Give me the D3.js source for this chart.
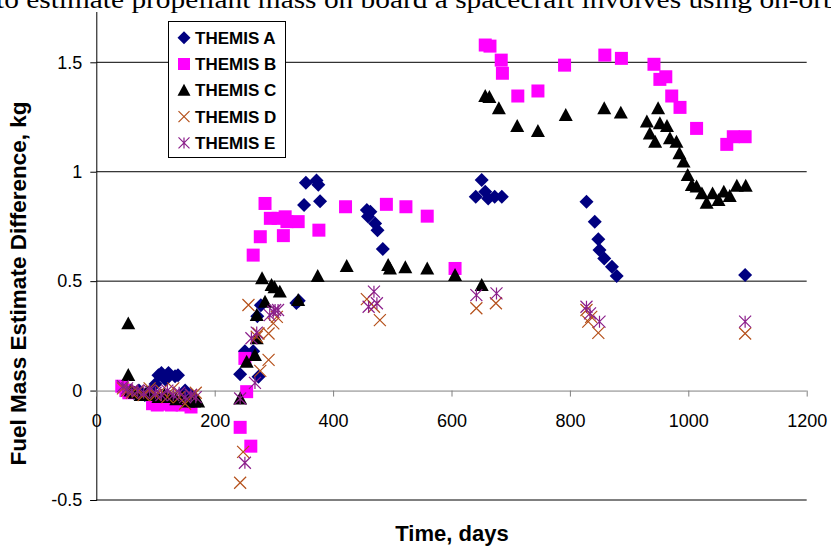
<!DOCTYPE html>
<html>
<head>
<meta charset="utf-8">
<script src="https://cdnjs.cloudflare.com/ajax/libs/d3/7.8.5/d3.min.js"></script>
<style>
  body { margin: 0; background: #fff; }
  svg { display: block; }
</style>
</head>
<body>
<div id="chart"></div>
<script>
// data (days since launch, kg)
var seriesNames = ["THEMIS A", "THEMIS B", "THEMIS C", "THEMIS D", "THEMIS E"];

var themisADays = [50, 56, 63, 72, 82, 92, 100, 105, 110, 117, 122, 133, 138, 150, 160,
  243, 251, 265, 274, 272, 278, 338, 342, 351, 354, 372, 375, 378,
  457, 459, 463, 471, 475, 484, 641, 651, 657, 662, 673, 685,
  828, 842, 848, 850, 858, 871, 879, 1096];
var themisAValues = [0.01, 0.0, -0.01, 0.0, -0.02, 0.0, 0.03, 0.07, 0.08, 0.05, 0.08, 0.065, 0.07, 0.0, -0.02,
  0.075, 0.18, 0.18, 0.063, 0.34, 0.39, 0.40, 0.41, 0.848, 0.95, 0.96, 0.94, 0.865,
  0.825, 0.795, 0.817, 0.764, 0.733, 0.647, 0.886, 0.962, 0.909, 0.878, 0.886, 0.886,
  0.863, 0.771, 0.691, 0.642, 0.604, 0.566, 0.523, 0.528];

var themisBDays = [43, 50, 55, 95, 103, 112, 127, 137, 145, 160,
  243, 251, 254, 261, 265, 277, 285, 294, 307, 316, 319, 322, 341, 376,
  421, 490, 523, 559, 606, 657, 665, 684, 686, 712, 746, 791,
  859, 887, 942, 952, 962, 972, 986, 1014, 1065, 1076, 1096];
var themisBValues = [0.02, 0.0, -0.01, -0.06, -0.066, -0.062, -0.066, -0.06, -0.066, -0.075,
  -0.168, 0.147, -0.005, -0.254, 0.619, 0.703, 0.855, 0.787, 0.787, 0.708, 0.794, 0.772, 0.772, 0.733,
  0.84, 0.851, 0.84, 0.797, 0.558, 1.579, 1.574, 1.51, 1.45, 1.346, 1.369, 1.487,
  1.533, 1.518, 1.491, 1.422, 1.434, 1.346, 1.294, 1.198, 1.125, 1.16, 1.16];

var themisCDays = [54, 54, 58, 65, 75, 85, 95, 105, 115, 125, 135, 145, 155, 165, 172,
  243, 254, 268, 271, 271, 280, 285, 296, 301, 310, 341, 374, 423, 493, 496, 522, 559, 606, 651,
  657, 664, 680, 711, 746, 793, 858, 886, 930, 935, 944, 949, 952, 964, 969, 980, 985, 992,
  999, 1006, 1014, 1023, 1031, 1041, 1051, 1060, 1070, 1082, 1097];
var themisCValues = [0.307, 0.071, 0.0, -0.01, -0.02, -0.01, -0.02, -0.03, -0.02, -0.03, -0.04, -0.03, -0.05, -0.05, -0.05,
  -0.036, 0.132, 0.162, 0.239, 0.345, 0.513, 0.406, 0.482, 0.472, 0.452, 0.414, 0.523, 0.569, 0.574, 0.558, 0.563, 0.558, 0.528, 0.482,
  1.346, 1.341, 1.29, 1.209, 1.186, 1.259, 1.29, 1.27, 1.229, 1.175, 1.137, 1.29, 1.221, 1.209, 1.153, 1.137, 1.084, 1.046,
  0.985, 0.939, 0.932, 0.901, 0.858, 0.901, 0.871, 0.909, 0.889, 0.936, 0.936];

var themisDDays = [45, 52, 60, 70, 80, 90, 100, 110, 120, 130, 140, 150, 160, 168,
  243, 248, 257, 271, 274, 277, 291, 291, 299, 305, 457, 469, 479, 642, 675,
  828, 831, 836, 848, 1096];
var themisDValues = [0.01, 0.0, -0.01, -0.005, -0.02, 0.01, -0.02, 0.0, -0.03, 0.01, -0.03, -0.06, -0.02, -0.01,
  -0.421, -0.28, 0.391, 0.246, 0.261, 0.09, 0.14, 0.261, 0.307, 0.337, 0.418, 0.383, 0.322, 0.376, 0.399,
  0.368, 0.315, 0.337, 0.264, 0.261];

var themisEDays = [45, 52, 60, 70, 80, 90, 100, 110, 120, 130, 140, 150, 160, 168,
  243, 251, 262, 268, 271, 293, 299, 302, 307, 460, 469, 474, 642, 676,
  828, 834, 850, 1096];
var themisEValues = [0.02, 0.01, 0.0, 0.0, -0.01, 0.0, -0.01, -0.02, 0.0, -0.02, -0.01, -0.03, -0.02, -0.03,
  -0.036, -0.33, 0.239, 0.035, 0.265, 0.345, 0.36, 0.368, 0.368, 0.383, 0.452, 0.399, 0.436, 0.444,
  0.383, 0.353, 0.315, 0.315];

var xTicks = [0, 200, 400, 600, 800, 1000, 1200];
var yTicks = [-0.5, 0, 0.5, 1, 1.5];

// excel-ish marker shapes, size = half width in px
var diamond = {draw: function(c, r) { c.moveTo(0, -r); c.lineTo(r, 0); c.lineTo(0, r); c.lineTo(-r, 0); c.closePath(); }};
var square = {draw: function(c, r) { c.rect(-r, -r, 2 * r, 2 * r); }};
var triangle = {draw: function(c, r) { c.moveTo(0, -r); c.lineTo(r, r * 0.85); c.lineTo(-r, r * 0.85); c.closePath(); }};
var cross = {draw: function(c, r) { c.moveTo(-r, -r); c.lineTo(r, r); c.moveTo(r, -r); c.lineTo(-r, r); }};
var star = {draw: function(c, r) { c.moveTo(-r, -r); c.lineTo(r, r); c.moveTo(r, -r); c.lineTo(-r, r); c.moveTo(0, -r); c.lineTo(0, r); }};

var series = [
  {name: seriesNames[0], days: themisADays, values: themisAValues, shape: diamond, size: 7, fill: "#000080", stroke: "none"},
  {name: seriesNames[1], days: themisBDays, values: themisBValues, shape: square, size: 6.5, fill: "#ff00ff", stroke: "none"},
  {name: seriesNames[2], days: themisCDays, values: themisCValues, shape: triangle, size: 7, fill: "#000000", stroke: "none"},
  {name: seriesNames[3], days: themisDDays, values: themisDValues, shape: cross, size: 6, fill: "none", stroke: "#b5501a"},
  {name: seriesNames[4], days: themisEDays, values: themisEValues, shape: star, size: 6, fill: "none", stroke: "#8b1f8b"}
];

var W = 831, H = 547;
var margin = {top: 7.6, right: 24.3, bottom: 47, left: 96.3};
var width = W - margin.left - margin.right;
var height = H - margin.top - margin.bottom;

var svg = d3.select("#chart").append("svg")
    .attr("width", W)
    .attr("height", H)
    .style("font-family", "'Liberation Sans', Arial, sans-serif");

var g = svg.append("g")
    .attr("transform", "translate(" + margin.left + "," + margin.top + ")");

var x = d3.scaleLinear().domain([0, 1200]).range([0, width]);
var y = d3.scaleLinear().domain([-0.5, 1.75]).range([height, 0]);

// gridlines
g.append("g")
    .selectAll("line")
    .data(yTicks.filter(function(d) { return d != 0; }))
    .enter().append("line")
    .attr("x1", 0)
    .attr("x2", width)
    .attr("y1", function(d) { return y(d); })
    .attr("y2", function(d) { return y(d); })
    .attr("stroke", "#000")
    .attr("stroke-width", 1);

var yAxis = d3.axisLeft(y)
    .tickValues(yTicks)
    .tickSize(6)
    .tickPadding(8)
    .tickFormat(function(d) { return d; });

var yg = g.append("g").call(yAxis);
yg.select(".domain").attr("stroke", "#000");
yg.selectAll(".tick line").attr("stroke", "#000");
yg.selectAll(".tick text").style("font-size", "18px").attr("fill", "#000").attr("x", -14);

var xAxis = d3.axisBottom(x)
    .tickValues(xTicks)
    .tickSize(6)
    .tickFormat(function(d) { return d; });

var xg = g.append("g")
    .attr("transform", "translate(0," + y(0) + ")")
    .call(xAxis);
xg.select(".domain").attr("stroke", "#808080").attr("d", "M0,0.5H" + width);
xg.selectAll(".tick line").attr("stroke", "#808080");
xg.selectAll(".tick text")
    .style("font-size", "18px")
    .attr("fill", "#000")
    .attr("y", 30)
    .attr("dy", "0.35em");

// markers
series.forEach(function(s) {
  var pts = s.days.map(function(d, i) { return [d, s.values[i]]; });
  var sym = d3.symbol().type(s.shape).size(s.size);
  g.append("g")
      .selectAll("path")
      .data(pts)
      .enter().append("path")
      .attr("transform", function(d) { return "translate(" + x(d[0]) + "," + y(d[1]) + ")"; })
      .attr("d", sym)
      .attr("fill", s.fill)
      .attr("stroke", s.stroke)
      .attr("stroke-width", s.stroke == "none" ? 0 : 1.2);
});

// legend
var legend = svg.append("g").attr("transform", "translate(168.5,21.5)");
legend.append("rect")
    .attr("width", 117)
    .attr("height", 136)
    .attr("fill", "#fff")
    .attr("stroke", "#000");

var items = legend.selectAll(".item")
    .data(series)
    .enter().append("g")
    .attr("class", "item")
    .attr("transform", function(d, i) { return "translate(0," + (16.2 + i * 26.3) + ")"; });

items.append("path")
    .attr("transform", "translate(15.5,0)")
    .attr("d", function(d) { return d3.symbol().type(d.shape).size(d.size - 0.5)(); })
    .attr("fill", function(d) { return d.fill; })
    .attr("stroke", function(d) { return d.stroke; })
    .attr("stroke-width", function(d) { return d.stroke == "none" ? 0 : 1.2; });

items.append("text")
    .attr("x", 26.5)
    .attr("dy", "0.36em")
    .style("font-size", "17px")
    .style("font-weight", "bold")
    .text(function(d) { return d.name; });

// axis titles
svg.append("text")
    .attr("transform", "translate(26," + 283.5 + ") rotate(-90)")
    .attr("text-anchor", "middle")
    .style("font-size", "22.5px")
    .style("font-weight", "bold")
    .text("Fuel Mass Estimate Difference, kg");

svg.append("text")
    .attr("x", 452)
    .attr("y", 541)
    .attr("text-anchor", "middle")
    .style("font-size", "22px")
    .style("font-weight", "bold")
    .text("Time, days");

// cut-off line of the surrounding page text
svg.append("rect").attr("x", 0).attr("y", 0).attr("width", W).attr("height", 12).attr("fill", "#fff");
svg.append("text")
    .attr("x", -4)
    .attr("y", 8)
    .attr("textLength", 858)
    .attr("lengthAdjust", "spacingAndGlyphs")
    .style("font-family", "'Liberation Serif', 'Times New Roman', serif")
    .style("font-size", "25px")
    .text("to estimate propellant mass on board a spacecraft involves using on-orbit");
</script>
</body>
</html>
